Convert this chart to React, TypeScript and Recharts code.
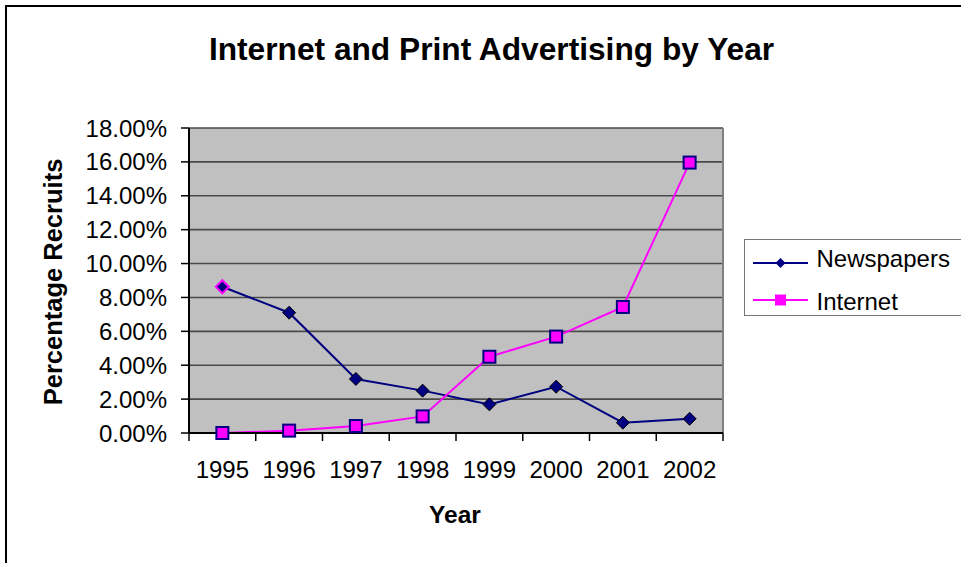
import React from 'react';
import { LineChart, Line, XAxis, YAxis, CartesianGrid, ReferenceLine } from 'recharts';

const years = ['1995', '1996', '1997', '1998', '1999', '2000', '2001', '2002'];
const newspapers = [8.63, 7.1, 3.19, 2.5, 1.69, 2.73, 0.61, 0.84];
const internet = [0.0, 0.14, 0.41, 0.98, 4.5, 5.69, 7.44, 15.96];
const yTicks = [0, 2, 4, 6, 8, 10, 12, 14, 16, 18];
const seriesNames = ['Newspapers', 'Internet'];
const titleText = 'Internet and Print Advertising by Year';
const xTitle = 'Year';
const yTitle = 'Percentage Recruits';

const FONT = '"Liberation Sans", Arial, Helvetica, sans-serif';
const NAVY = '#000080';
const MAGENTA = '#FF00FF';

const data = years.map((y, i) => ({
  year: y,
  pos: i + 0.5,
  newspapers: newspapers[i],
  internet: internet[i],
}));

const xTicks = Array.from({ length: years.length * 2 + 1 }, (_, k) => k / 2);

const XTick = (props: any) => {
  const { x, y, payload } = props;
  const v = payload.value as number;
  if (Number.isInteger(v)) {
    return <line x1={x} x2={x} y1={y - 8} y2={y} stroke="#000" strokeWidth={1.5} />;
  }
  return (
    <text x={x} y={y + 37} textAnchor="middle" fontSize={24} fill="#000" fontFamily={FONT}>
      {years[Math.floor(v)]}
    </text>
  );
};

const Diamond = (props: any) => {
  const { cx, cy, index } = props;
  if (cx == null || cy == null) return <g />;
  const s = 6.5;
  return (
    <path
      d={`M${cx},${cy - s} L${cx + s},${cy} L${cx},${cy + s} L${cx - s},${cy} Z`}
      fill={NAVY}
      stroke={index === 0 ? MAGENTA : '#000'}
      strokeWidth={index === 0 ? 2 : 1}
    />
  );
};

const Square = (props: any) => {
  const { cx, cy } = props;
  if (cx == null || cy == null) return <g />;
  const s = 6;
  return <rect x={cx - s} y={cy - s} width={2 * s} height={2 * s} fill={MAGENTA} stroke={NAVY} strokeWidth={2} />;
};

export default function App() {
  return (
    <div
      style={{
        position: 'fixed',
        left: 0,
        top: 0,
        width: 961,
        height: 563,
        overflow: 'hidden',
        background: '#fff',
        fontFamily: FONT,
      }}
    >
      <div
        style={{
          position: 'absolute',
          left: 5,
          top: 5,
          width: 1000,
          height: 600,
          borderLeft: '2px solid #000',
          borderTop: '2px solid #000',
        }}
      />
      <div style={{ position: 'absolute', left: 0, top: 0 }}>
        <LineChart
          width={961}
          height={563}
          data={data}
          margin={{ top: 128, left: 89, right: 238, bottom: 40 }}
        >
          <CartesianGrid
            horizontal={true}
            vertical={false}
            fill="#C0C0C0"
            fillOpacity={1}
            stroke="#4a4a4a"
            strokeWidth={1.6}
          />
          <ReferenceLine x={years.length} stroke="#808080" strokeWidth={2} />
          <XAxis
            dataKey="pos"
            type="number"
            domain={[0, years.length]}
            ticks={xTicks}
            interval={0}
            tickLine={false}
            tickSize={8}
            tickMargin={0}
            height={90}
            axisLine={{ stroke: '#000', strokeWidth: 2 }}
            tick={(p: any) => <XTick {...p} />}
          />
          <YAxis
            type="number"
            domain={[0, 18]}
            ticks={yTicks}
            interval={0}
            width={100}
            tickSize={8}
            tickMargin={14}
            tickFormatter={(v: number) => `${v.toFixed(2)}%`}
            tick={{ fill: '#000', fontSize: 24, fontFamily: FONT }}
            tickLine={{ stroke: '#000', strokeWidth: 1.5 }}
            axisLine={{ stroke: '#000', strokeWidth: 2 }}
          />
          <Line
            type="linear"
            dataKey="newspapers"
            name={seriesNames[0]}
            stroke={NAVY}
            strokeWidth={2}
            dot={(p: any) => <Diamond key={`d${p.index}`} {...p} />}
            activeDot={false}
            isAnimationActive={false}
          />
          <Line
            type="linear"
            dataKey="internet"
            name={seriesNames[1]}
            stroke={MAGENTA}
            strokeWidth={2}
            dot={(p: any) => <Square key={`s${p.index}`} {...p} />}
            activeDot={false}
            isAnimationActive={false}
          />
        </LineChart>
      </div>
      <svg
        width={961}
        height={563}
        style={{ position: 'absolute', left: 0, top: 0, pointerEvents: 'none' }}
      >
        <text x={491.5} y={60} textAnchor="middle" fontSize={31.7} fontWeight="bold" fill="#000" fontFamily={FONT}>
          {titleText}
        </text>
        <text
          x={61.5}
          y={282}
          textAnchor="middle"
          fontSize={25.5}
          fontWeight="bold"
          fill="#000"
          fontFamily={FONT}
          transform="rotate(-90 61.5 282)"
        >
          {yTitle}
        </text>
        <text x={455} y={523} textAnchor="middle" fontSize={24.5} fontWeight="bold" fill="#000" fontFamily={FONT}>
          {xTitle}
        </text>
        {/* legend */}
        <rect x={744.5} y={239.5} width={240} height={76} fill="#fff" stroke="#777" strokeWidth={1} />
        <line x1={753} x2={808} y1={263} y2={263} stroke={NAVY} strokeWidth={2} />
        <path d="M780.5,258 L785.5,263 L780.5,268 L775.5,263 Z" fill={NAVY} />
        <text x={816.5} y={266.5} fontSize={24} fill="#000" fontFamily={FONT}>
          {seriesNames[0]}
        </text>
        <line x1={753} x2={808} y1={300} y2={300} stroke={MAGENTA} strokeWidth={2} />
        <rect x={775} y={294.5} width={11} height={11} fill={MAGENTA} />
        <text x={816.5} y={310} fontSize={24} fill="#000" fontFamily={FONT}>
          {seriesNames[1]}
        </text>
      </svg>
    </div>
  );
}
